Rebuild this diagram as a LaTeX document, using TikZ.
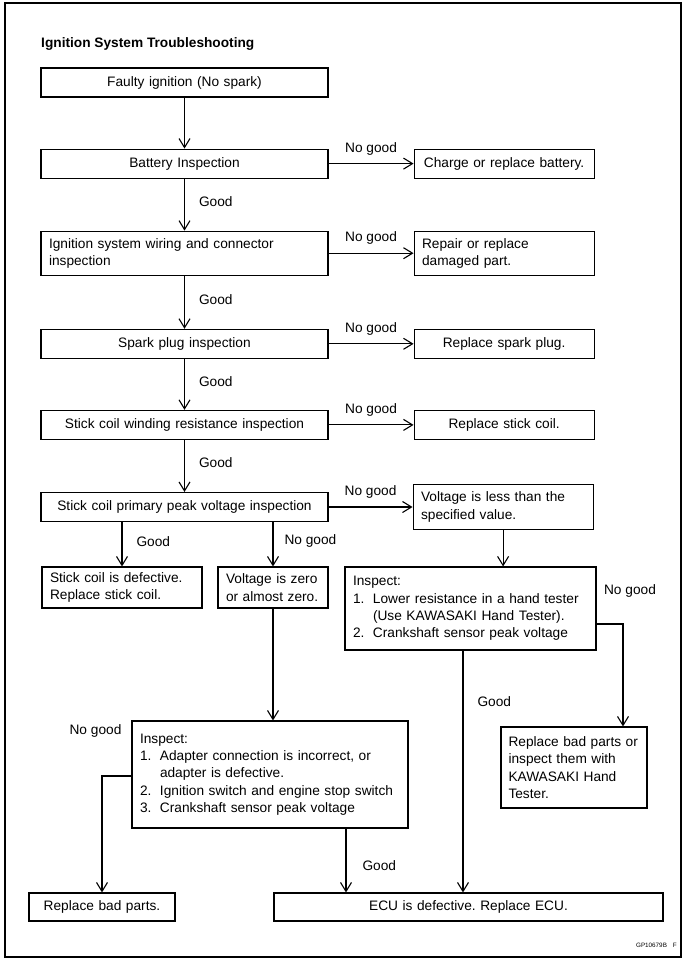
\documentclass[tikz,border=0pt]{standalone}
\usepackage{fontspec}
\setmainfont{Liberation Sans}
\usetikzlibrary{arrows.meta,positioning}
\frenchspacing
\newcommand{\boxfont}{\fontsize{13.7}{17.3}\selectfont}
\newcommand{\itemno}[1]{\makebox[20pt][l]{#1}}
\newcommand{\itemcont}{\hspace*{20pt}}

\begin{document}
\begin{tikzpicture}[x=1pt,y=-1pt,
  box/.style={draw,line width=1.1pt,inner xsep=8pt,inner ysep=2pt,font=\boxfont},
  mainbox/.style={box,text width=271pt,minimum height=29pt,align=center},
  sidebox/.style={box,text width=164pt,minimum height=29pt,align=center},
  arrow/.style={-{Straight Barb[length=9pt,width=11pt]},line width=1.1pt},
  abovelabel/.style={font=\boxfont,anchor=base,inner sep=2pt,yshift=11.5pt},
  besidelabel/.style={font=\boxfont,anchor=west,inner sep=2pt,xshift=12pt,yshift=3pt},
  node distance=51pt and 85pt
]
\useasboundingbox (0,0) rectangle (684,962);
\draw[line width=1.4pt] (5,3) rectangle (681,957);
\node[font=\boxfont\bfseries,anchor=base west,inner sep=2pt] (title) at (39,47) {Ignition System Troubleshooting};

% main column and the no good branches
\node[mainbox] (faulty) at (184.5,82.5) {Faulty ignition (No spark)};
\node[mainbox,below=51pt of faulty] (battery) {Battery Inspection};
\node[sidebox,right=of battery] (charge) {Charge or replace battery.};
\node[mainbox,align=left,minimum height=44pt,below=52pt of battery] (wiring) {Ignition system wiring and connector\\inspection};
\node[sidebox,align=left,minimum height=44pt,right=of wiring] (repair) {Repair or replace\\damaged part.};
\node[mainbox,below=53pt of wiring] (plug) {Spark plug inspection};
\node[sidebox,right=of plug] (newplug) {Replace spark plug.};
\node[mainbox,below=51pt of plug] (winding) {Stick coil winding resistance inspection};
\node[sidebox,right=of winding] (newcoil) {Replace stick coil.};
\node[mainbox,below=52pt of winding] (primary) {Stick coil primary peak voltage inspection};
\node[sidebox,align=left,minimum height=45pt,right=84pt of primary] (low) {Voltage is less than the\\specified value.};

% lower part
\node[box,text width=144pt,minimum height=41pt,align=left] (defective) at (122,587.5) {Stick coil is defective.\\Replace stick coil.};
\node[box,text width=94pt,minimum height=41pt,align=left] (zero) at (273,587.5) {Voltage is zero\\or almost zero.};
\node[box,text width=235pt,minimum height=83pt,align=left] (inspecta) at (470.5,608.5) {Inspect:\\\itemno{1.}Lower resistance in a hand tester\\\itemcont(Use KAWASAKI Hand Tester).\\\itemno{2.}Crankshaft sensor peak voltage};
\node[box,text width=131pt,inner xsep=7.5pt,minimum height=81pt,align=left] (partsor) at (574,767.5) {Replace bad parts or\\inspect them with\\KAWASAKI Hand\\Tester.};
\node[box,text width=260pt,minimum height=107pt,align=left] (inspectb) at (270,774.5) {Inspect:\\\itemno{1.}Adapter connection is incorrect, or\\\itemcont adapter is defective.\\\itemno{2.}Ignition switch and engine stop switch\\\itemno{3.}Crankshaft sensor peak voltage};
\node[box,text width=130pt,minimum height=28pt,align=center] (parts) at (102,907) {Replace bad parts.};
\node[box,text width=373pt,minimum height=28pt,align=center] (ecu) at (468.5,907) {ECU is defective. Replace ECU.};
\node[font=\fontsize{6.3}{8}\selectfont,anchor=base east,inner sep=0pt] (code) at (677,947) {GP10679B\hspace{6pt}F};

\draw[arrow] (faulty) -- (battery);
\draw[arrow] (battery) -- node[abovelabel]{No good} (charge);
\draw[arrow] (battery) -- node[besidelabel]{Good} (wiring);
\draw[arrow] (wiring) -- node[abovelabel]{No good} (repair);
\draw[arrow] (wiring) -- node[besidelabel]{Good} (plug);
\draw[arrow] (plug) -- node[abovelabel]{No good} (newplug);
\draw[arrow] (plug) -- node[besidelabel]{Good} (winding);
\draw[arrow] (winding) -- node[abovelabel]{No good} (newcoil);
\draw[arrow] (winding) -- node[besidelabel]{Good} (primary);
\draw[arrow] (primary) -- node[abovelabel]{No good} (low);
\draw[arrow] (primary.south -| defective) -- node[besidelabel]{Good} (defective);
\draw[arrow] (primary.south -| zero) -- node[besidelabel,xshift=-3pt]{No good} (zero);
\draw[arrow] (low) -- (low.south |- inspecta.north);

\coordinate (rightturn) at (623,624);
\draw[arrow] (inspecta.east |- rightturn) -- (rightturn) node[abovelabel,xshift=7pt,yshift=18.5pt]{No good} -- (rightturn |- partsor.north);
\coordinate (goa) at ([xshift=-7.5pt]inspecta.south);
\draw[arrow] (goa) -- node[besidelabel,pos=0.21,yshift=-3pt]{Good} (goa |- ecu.north);

\draw[arrow] (zero) -- (zero.south |- inspectb.north);
\coordinate (leftturn) at (102,776);
\draw[arrow] (inspectb.west |- leftturn) -- (leftturn) node[abovelabel,xshift=-6.5pt,yshift=30.5pt]{No good} -- (parts);
\coordinate (gob) at ([xshift=76pt]inspectb.south);
\draw[arrow] (gob) -- node[besidelabel,xshift=2pt,yshift=-8.5pt]{Good} (gob |- ecu.north);
\end{tikzpicture}
\end{document}
